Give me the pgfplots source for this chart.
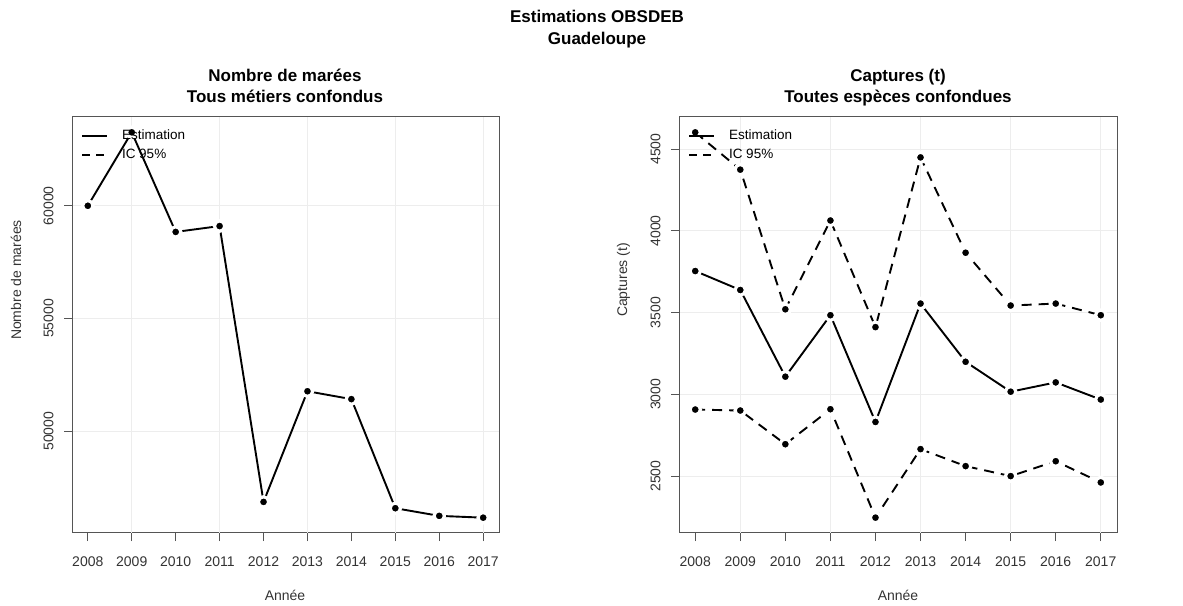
\documentclass[border=0pt]{standalone}
\usepackage{fontspec}
\setmainfont{Liberation Sans}
\usepackage{pgfplots}
\pgfplotsset{compat=1.18}

\definecolor{boxgray}{HTML}{555555}
\definecolor{txtgray}{HTML}{333333}
\definecolor{gridgray}{HTML}{EDEDED}

\newcommand{\fs}[1]{\fontsize{#1}{#1}\selectfont}

\pgfplotsset{
  rpanel/.style={
    scale only axis,
    height=416pt,
    xmin=2007.64, xmax=2017.36,
    xtick={2008,...,2017},
    scaled y ticks=false,
    /pgf/number format/.cd, fixed, 1000 sep={}, assume math mode=true, /pgfplots/.cd,
    axis line style={boxgray, line width=1pt},
    tick style={boxgray, line width=1pt},
    tick align=outside,
    major tick length=8pt,
    xtick pos=bottom, ytick pos=left,
    ticklabel style={font=\fs{14}, text=txtgray},
    yticklabel style={rotate=90, anchor=south},
    xticklabel shift=12pt,
    yticklabel shift=7pt,
    ymajorgrids,
    grid style={gridgray, line width=0.8pt},
    extra x ticks={2009,2011,2013,2015,2017},
    extra x tick labels={},
    extra x tick style={grid=major},
    legend style={at={(0,1)}, anchor=north west, draw=none, fill=none,
      font=\fs{13.5}, inner xsep=9pt, inner ysep=11pt, row sep=4pt,
      column sep=12pt},
    legend cell align=left,
    legend image code/.code={\draw[##1] (0pt,0pt) -- (25pt,0pt);},
  },
  est/.style={black, line width=1.9pt, mark=*, mark size=5.2pt,
    mark options={solid, fill=black, draw=white, line width=3.2pt}},
  ic/.style={est, dash pattern=on 10pt off 7pt},
}

\begin{document}
\begin{tikzpicture}
\useasboundingbox (0,0) rectangle (1183pt,605pt);

% Titre général
\node[anchor=base, font=\fs{17}\bfseries] at (597pt,582pt) {Estimations OBSDEB};
\node[anchor=base, font=\fs{17}\bfseries] at (597pt,560pt) {Guadeloupe};

% Panneau gauche : nombre de marées
\begin{axis}[rpanel, at={(72pt,72pt)}, anchor=south west, width=427pt,
  ymin=45480, ymax=63940, ytick={50000,55000,60000}]
\addlegendimage{black, line width=1.8pt, solid}
\addlegendentry{Estimation}
\addlegendimage{black, line width=1.8pt, dash pattern=on 8pt off 6pt}
\addlegendentry{IC 95\%}
\addplot[est, forget plot] coordinates {
  (2008,60000) (2009,63260) (2010,58840) (2011,59100) (2012,46860)
  (2013,51770) (2014,51420) (2015,46580) (2016,46240) (2017,46160)};
\end{axis}

% Panneau droit : captures
\begin{axis}[rpanel, at={(679pt,72pt)}, anchor=south west, width=438pt,
  ymin=2152, ymax=4696, ytick={2500,3000,3500,4000,4500}]
\addlegendimage{black, line width=1.8pt, solid}
\addlegendentry{Estimation}
\addlegendimage{black, line width=1.8pt, dash pattern=on 8pt off 6pt}
\addlegendentry{IC 95\%}
\addplot[est, forget plot] coordinates {
  (2008,3754) (2009,3638) (2010,3108) (2011,3484) (2012,2831)
  (2013,3555) (2014,3199) (2015,3016) (2016,3073) (2017,2968)};
\addplot[ic, forget plot] coordinates {
  (2008,4602) (2009,4374) (2010,3520) (2011,4063) (2012,3411)
  (2013,4449) (2014,3866) (2015,3543) (2016,3555) (2017,3484)};
\addplot[ic, forget plot] coordinates {
  (2008,2907) (2009,2901) (2010,2695) (2011,2909) (2012,2246)
  (2013,2665) (2014,2561) (2015,2500) (2016,2591) (2017,2461)};
\end{axis}

% Titres des panneaux
\node[anchor=base, font=\fs{17}\bfseries] at (285pt,523pt) {Nombre de marées};
\node[anchor=base, font=\fs{17}\bfseries] at (285pt,502pt) {Tous métiers confondus};
\node[anchor=base, font=\fs{17}\bfseries] at (898pt,523pt) {Captures (t)};
\node[anchor=base, font=\fs{17}\bfseries] at (898pt,502pt) {Toutes espèces confondues};

% Titres des axes
\node[anchor=base, font=\fs{14}, text=txtgray] at (285pt,5pt) {Année};
\node[anchor=base, font=\fs{14}, text=txtgray] at (898pt,5pt) {Année};
\node[anchor=base, rotate=90, font=\fs{14}, text=txtgray] at (21pt,325pt) {Nombre de marées};
\node[anchor=base, rotate=90, font=\fs{14}, text=txtgray] at (627pt,325pt) {Captures (t)};
\end{tikzpicture}
\end{document}
